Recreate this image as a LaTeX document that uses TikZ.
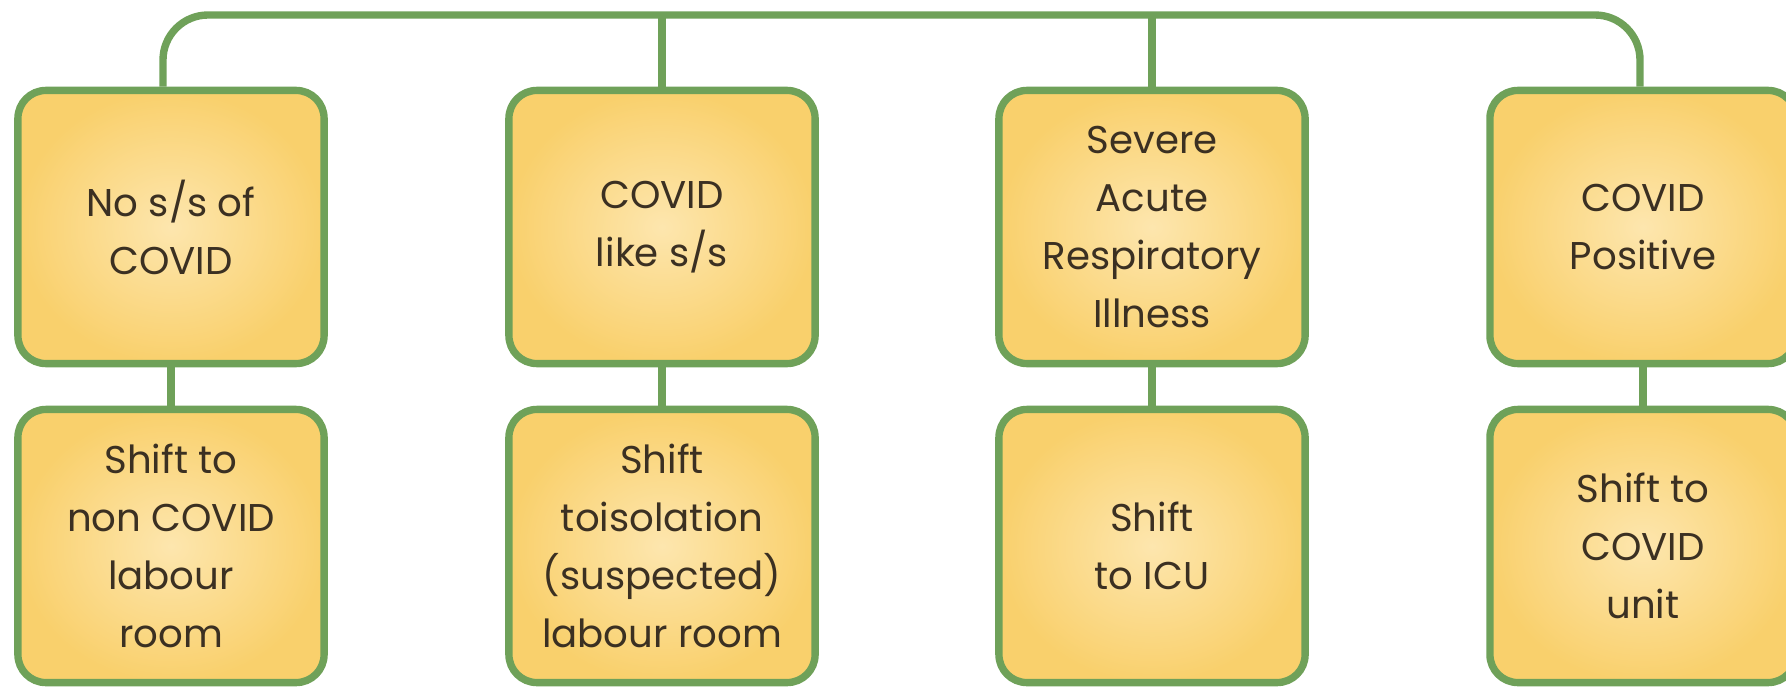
\documentclass[tikz,border=0pt]{standalone}
\usepackage{fontspec}
\setmainfont{Poppins}
\definecolor{leaf}{HTML}{6FA159}
\definecolor{sand}{HTML}{F9D06C}
\definecolor{cream}{HTML}{FDE6AE}
\definecolor{ink}{HTML}{3B3022}
\begin{document}
\begin{tikzpicture}[x=0.01cm,y=-0.01cm,
  box/.style={draw=leaf,line width=2.1pt,rounded corners=0.28cm,shade,shading=radial,
    inner color=cream,outer color=sand,minimum width=3.06cm,minimum height=2.73cm,
    align=center,text=ink,font=\fontsize{11}{16.5}\selectfont},
  link/.style={draw=leaf,line width=2.1pt}]
  \useasboundingbox (0,0) rectangle (1786,688);
  % patient groups
  \node[box] (s1) at (171,227) {No s/s of\\COVID};
  \node[box] (s2) at (662,227) {COVID\\like s/s};
  \node[box] (s3) at (1152,227) {Severe\\Acute\\Respiratory\\Illness};
  \node[box] (s4) at (1643,227) {COVID\\Positive};
  % where they go
  \node[box] (d1) at (171,546) {Shift to\\non COVID\\labour\\room};
  \node[box] (d2) at (662,546) {Shift\\toisolation\\(suspected)\\labour room};
  \node[box] (d3) at (1152,546) {Shift\\to ICU};
  \node[box] (d4) at (1643,546) {Shift to\\COVID\\unit};
  % top bar
  \coordinate (top) at (900,15);
  \draw[link,rounded corners=0.45cm] ([xshift=-0.08cm]s1.north) |- (top) -| ([xshift=-0.03cm]s4.north);
  \draw[link] (s2.north) -- (s2.north |- top);
  \draw[link] (s3.north) -- (s3.north |- top);
  \foreach \i in {1,...,4}
    \draw[link] (s\i.south) -- (d\i.north);
\end{tikzpicture}
\end{document}
